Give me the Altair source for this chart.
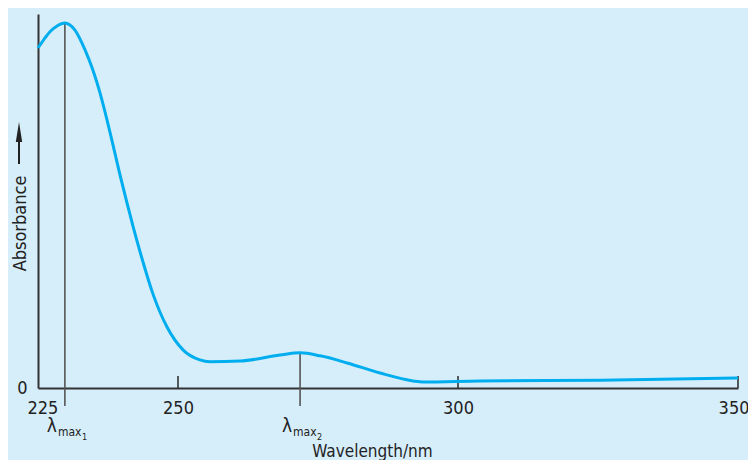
import altair as alt
import pandas as pd

# Spectrum trace (wavelength in nm, relative absorbance)
wavelength = [225, 226.1, 227.1, 228.4, 229.8, 231.6, 233.4, 234.8, 236.07, 237.32,
              238.39, 239.64, 240.89, 241.96, 243.75, 245.54, 248.04, 250.89, 253.9, 255.7,
              261.1, 268.2, 271.8, 275.4, 280.2, 286.1, 292.0, 293.75, 303.9, 325.4, 350]
absorbance = [0.909, 0.933, 0.952, 0.968, 0.976, 0.957, 0.904, 0.850, 0.789, 0.717,
              0.650, 0.570, 0.495, 0.433, 0.337, 0.251, 0.163, 0.102, 0.075, 0.070,
              0.072, 0.088, 0.094, 0.086, 0.067, 0.040, 0.019, 0.016, 0.019, 0.021, 0.027]

x_tick_labels = [225, 250, 300, 350]
x_tick_marks = [250, 300, 350]
lambda_x = [229.8, 271.8]
lambda_top = [0.976, 0.094]
lambda_sub = ["1", "2"]

FONT = "DejaVu Sans Condensed"
BG = "#d6eefa"
CURVE = "#00aeef"
AX = "#333333"

df = pd.DataFrame({"wl": wavelength, "a": absorbance})
lam = pd.DataFrame({"x": lambda_x, "top": lambda_top, "bottom": [-0.048, -0.048], "sub": lambda_sub})
ticks = pd.DataFrame({"x": x_tick_marks, "y0": [0.0] * 3, "y1": [0.032] * 3})

xscale = alt.Scale(domain=[225, 350], nice=False, zero=False)
yscale = alt.Scale(domain=[0, 1], nice=False)

xaxis = alt.Axis(values=x_tick_labels, tickSize=0, labelPadding=11, grid=False, format="d",
                 domainColor=AX, domainWidth=2, labelFont=FONT, labelFontSize=18,
                 labelColor="#222", labelFlush=True, labelFlushOffset=11,
                 title="Wavelength/nm", titleFont=FONT, titleFontSize=17, titleFontWeight="normal",
                 titleColor="#222", titleX=334, titleY=68, titleAlign="center",
                 titleBaseline="alphabetic")
yaxis = alt.Axis(values=[0], tickSize=0, labelPadding=11, grid=False, format="d",
                 domainColor=AX, domainWidth=2, labelFont=FONT, labelFontSize=18,
                 labelColor="#222", labelBaseline="middle",
                 title="Absorbance", titleFont=FONT, titleFontSize=18, titleFontWeight="normal",
                 titleColor="#222", titleX=-13, titleY=209, titleAngle=270,
                 titleAlign="center", titleBaseline="alphabetic")

curve = alt.Chart(df).mark_line(color=CURVE, strokeWidth=3, interpolate="monotone", clip=False).encode(
    x=alt.X("wl:Q", scale=xscale, axis=xaxis),
    y=alt.Y("a:Q", scale=yscale, axis=yaxis),
)

lam_lines = alt.Chart(lam).mark_rule(color="#555555", strokeWidth=1.6, clip=False).encode(
    x=alt.X("x:Q", scale=xscale),
    y=alt.Y("top:Q", scale=yscale),
    y2="bottom:Q",
)

tick_rules = alt.Chart(ticks).mark_rule(color=AX, strokeWidth=1.6, clip=False).encode(
    x=alt.X("x:Q", scale=xscale),
    y=alt.Y("y0:Q", scale=yscale),
    y2="y1:Q",
)

lam_char = alt.Chart(lam).mark_text(text="λ", font=FONT, fontSize=19, color="#222",
                                    align="center", baseline="middle", dx=-13, clip=False).encode(
    x=alt.X("x:Q", scale=xscale), y=alt.value(412))
lam_max = alt.Chart(lam).mark_text(text="max", font=FONT, fontSize=12, color="#222",
                                   align="left", baseline="middle", dx=-7, clip=False).encode(
    x=alt.X("x:Q", scale=xscale), y=alt.value(418))
lam_num = alt.Chart(lam).mark_text(font=FONT, fontSize=9, color="#222",
                                   align="left", baseline="middle", dx=17, clip=False).encode(
    x=alt.X("x:Q", scale=xscale), y=alt.value(423), text="sub:N")

arrow_shaft = alt.Chart(df).mark_rule(color="#222", strokeWidth=1.3, clip=False).encode(
    x=alt.value(-19), y=alt.value(126), y2=alt.value(150))
arrow_head = alt.Chart(pd.DataFrame({"k": [0]})).mark_point(
    shape="M0,-1L0.32,1L-0.32,1Z", filled=True, color="#222", opacity=1, size=400, clip=False
).encode(x=alt.value(-19), y=alt.value(118))

chart = alt.layer(
    lam_lines, tick_rules, curve, lam_char, lam_max, lam_num, arrow_shaft, arrow_head
).properties(
    width=700, height=374,
    autosize=alt.AutoSizeParams(type="none"),
    padding={"left": 30, "top": 6, "right": 10, "bottom": 72},
    background=BG,
).configure_view(stroke=None)

chart.save("out.html", embed_options={"renderer": "svg", "actions": False})
